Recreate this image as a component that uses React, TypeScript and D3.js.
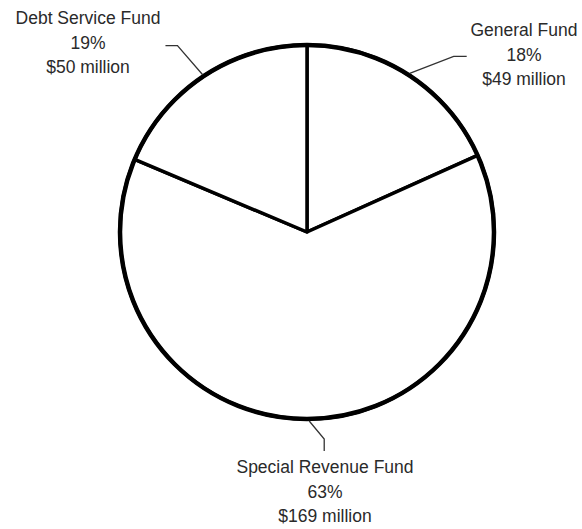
import React from "react";
import * as d3 from "d3";

const funds = ["General Fund", "Special Revenue Fund", "Debt Service Fund"];
const amounts = [49, 169, 50];
const percents = ["18%", "63%", "19%"];
const amountLabels = ["$49 million", "$169 million", "$50 million"];

// label layout: elbow offset from arc point, tail end, text anchor
const layout = [
  { elbow: [44, -17], tail: [57, -17], text: [524, 36] },
  { elbow: [15, 18], tail: [15, 30], text: [325, 473] },
  { elbow: [-25, -29], tail: [-37, -29], text: [88, 24] },
];

const width = 582;
const height = 529;
const cx = 307;
const cy = 232;
const radius = 187;

export default function App() {
  const pie = d3
    .pie<number>()
    .sort(null)
    .value((d) => d);
  const arcs = pie(amounts);
  const arcGen = d3.arc<d3.PieArcDatum<number>>().innerRadius(0).outerRadius(radius);

  return (
    <svg
      width={width}
      height={height}
      style={{ position: "absolute", left: 0, top: 0, background: "#fff" }}
    >
      <g transform={`translate(${cx},${cy})`}>
        {arcs.map((a, i) => (
          <path
            key={i}
            d={arcGen(a) || ""}
            fill="#fff"
            stroke="#000"
            strokeWidth={3.5}
            strokeLinejoin="round"
          />
        ))}
        <circle r={radius} fill="none" stroke="#000" strokeWidth={4.5} />
        {arcs.map((a, i) => {
          const mid = (a.startAngle + a.endAngle) / 2;
          const x0 = Math.sin(mid) * (radius + 2);
          const y0 = -Math.cos(mid) * (radius + 2);
          const l = layout[i];
          return (
            <polyline
              key={i}
              points={`${x0},${y0} ${x0 + l.elbow[0]},${y0 + l.elbow[1]} ${x0 + l.tail[0]},${y0 + l.tail[1]}`}
              fill="none"
              stroke="#333"
              strokeWidth={1.3}
            />
          );
        })}
      </g>
      {funds.map((f, i) => {
        const [tx, ty] = layout[i].text;
        return (
          <text
            key={f}
            x={tx}
            y={ty}
            textAnchor="middle"
            fontFamily="'Liberation Sans', Arial, sans-serif"
            fontSize={17.5}
            fill="#2a2a2a"
          >
            <tspan x={tx}>{f}</tspan>
            <tspan x={tx} dy={24.5}>{percents[i]}</tspan>
            <tspan x={tx} dy={24.5}>{amountLabels[i]}</tspan>
          </text>
        );
      })}
    </svg>
  );
}
